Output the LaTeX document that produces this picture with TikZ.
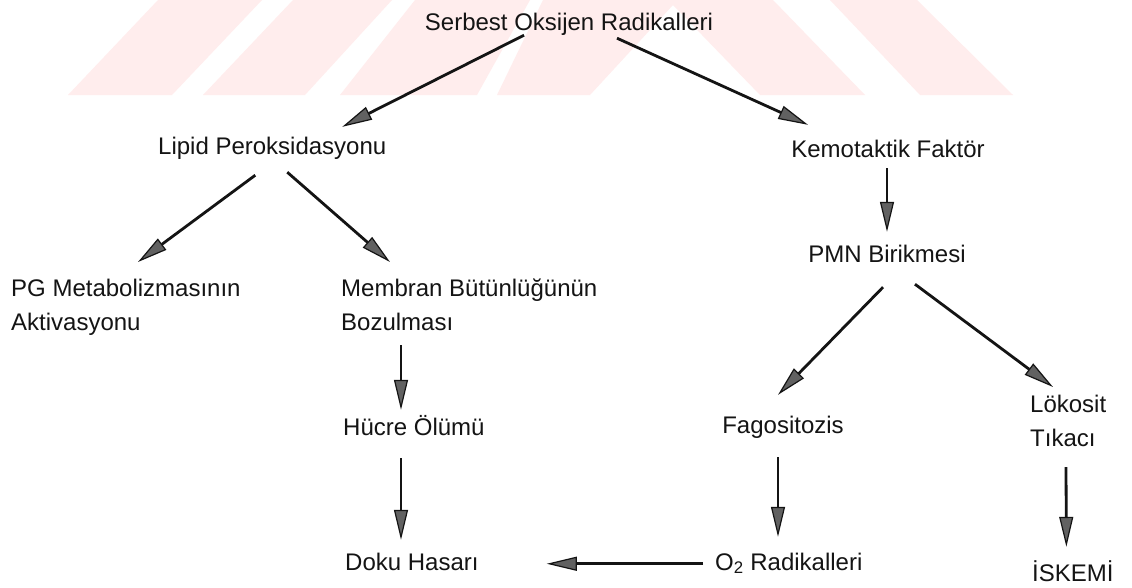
\documentclass[tikz,border=0pt]{standalone}
\usepackage{fontspec}
\setmainfont{Liberation Sans}
\usetikzlibrary{arrows.meta,calc}
\begin{document}
\begin{tikzpicture}[x=1pt,y=-1pt,
  wmfill/.style={fill=red!7!white},
  lbl/.style={inner sep=0pt, font=\fontsize{24}{34}\selectfont, text=black!92},
  one/.style={lbl, text height=17.5pt, text depth=5pt},
  arr/.style={draw=black!92, line width=2.8pt, -{Triangle[length=30pt,width=14pt,line width=1.2pt,fill=black!62]}}]
\useasboundingbox (0,0) rectangle (1132,587);
\fill[white] (0,0) rectangle (1132,587);
% watermark stripes
\fill[wmfill] (68,95) -- (172,95) -- (262,0) -- (158,0) -- cycle;
\fill[wmfill] (203,95) -- (305,95) -- (392,0) -- (293,0) -- cycle;
\fill[wmfill] (340,95) -- (477,95) -- (530,0) -- (415,0) -- cycle;
\fill[wmfill] (497,95) -- (590,95) -- (673,5) -- (760,95) -- (865,95) -- (773,0) -- (543,0) -- cycle;
\fill[wmfill] (830,0) -- (917,0) -- (1013,95) -- (920,95) -- cycle;
% nodes
\node[one, anchor=base] (serbest) at (569,30) {Serbest Oksijen Radikalleri};
\node[one, anchor=base west] (lipid) at (158,154) {Lipid Peroksidasyonu};
\node[one, anchor=base] (kemo) at (888,157) {Kemotaktik Faktör};
\node[one, anchor=base] (pmn) at (887,262) {PMN Birikmesi};
\node[lbl, align=left, anchor=north west] (pg) at (11,279) {PG Metabolizmasının\\Aktivasyonu};
\node[lbl, align=left, anchor=north west] (memb) at (341,279) {Membran Bütünlüğünün\\Bozulması};
\node[one, anchor=base west] (hucre) at (343,435) {Hücre Ölümü};
\node[one, anchor=base west] (doku) at (345,570) {Doku Hasarı};
\node[one, anchor=base] (fag) at (783,433) {Fagositozis};
\node[one, anchor=base west] (o2) at (715,570) {O\textsubscript{2} Radikalleri};
\node[lbl, align=left, anchor=north west] (lok) at (1030,395) {Lökosit\\Tıkacı};
\node[one, anchor=base west] (isk) at (1032,581) {İSKEMİ};
% connectors
\draw[arr] ($(serbest.south)+(-45,0)$) -- ($(lipid.north)+(70,-9.5)$);
\draw[arr] ($(serbest.south)+(48,3)$) -- ($(kemo.north)+(-80,-14.5)$);
\draw[arr] ($(lipid.south)+(-17,16)$) -- ($(pg.north west)+(127,-17)$);
\draw[arr] ($(lipid.south)+(15,13)$) -- ($(memb.north west)+(49,-17)$);
\draw[arr] ($(kemo.south)+(-1,6)$) -- ($(pmn.north)+(0,-12.5)$);
\draw[arr] ($(pmn.south)+(-4,20)$) -- ($(fag.north)+(-5,-20.5)$);
\draw[arr] ($(pmn.south)+(28,17)$) -- ($(lok.north west)+(23,-8)$);
\draw[arr] ($(memb.north west)+(60,66)$) -- ($(hucre.north west)+(58,-7.5)$);
\draw[arr] ($(hucre.south west)+(58,18)$) -- ($(doku.north west)+(56,-12.5)$);
\draw[arr] ($(fag.south)+(-5,19)$) -- ($(o2.north west)+(63,-15.5)$);
\draw[arr] ($(o2.west)+(-12,0)$) -- ($(doku.east)+(68,0)$);
\draw[arr] ($(lok.north west)+(36,72)$) -- ($(isk.north)+(-6.5,-16.5)$);
\end{tikzpicture}
\end{document}
